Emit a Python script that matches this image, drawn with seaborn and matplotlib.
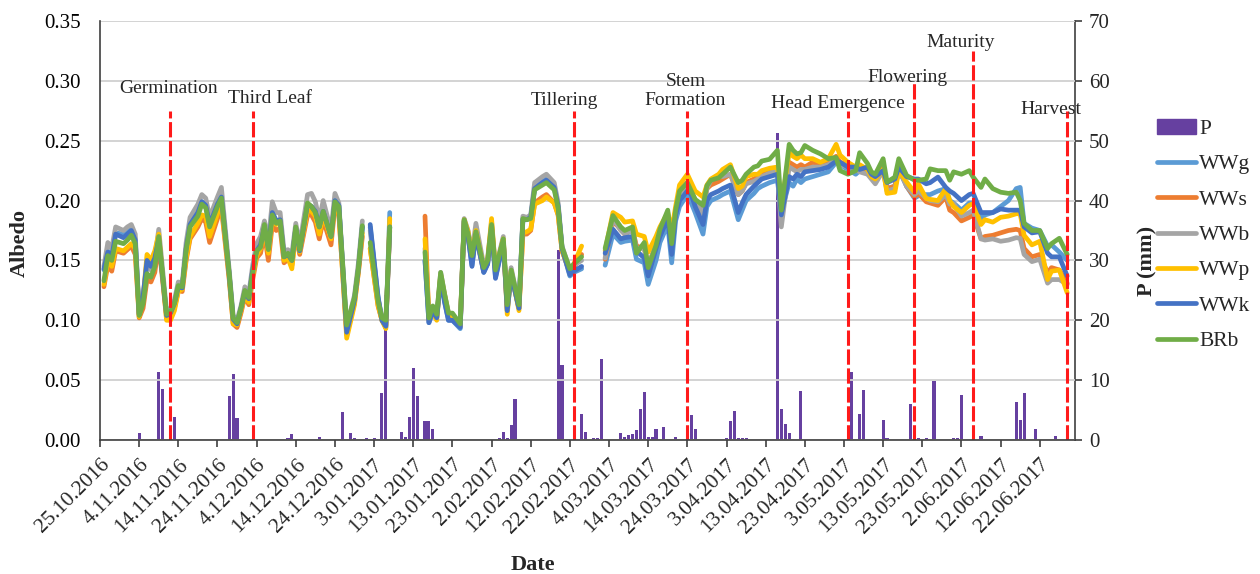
import numpy as np
import pandas as pd
import matplotlib
matplotlib.use("Agg")
import matplotlib.pyplot as plt
import matplotlib.dates as mdates
from matplotlib.lines import Line2D
from matplotlib.patches import Patch
from matplotlib.ticker import FuncFormatter, MultipleLocator
import seaborn as sns

sns.set_theme(style="white")
plt.rcParams["font.family"] = ["Liberation Serif", "DejaVu Serif"]

start = pd.Timestamp("2016-10-25")

# days after 25.10.2016, four measurement segments
days = [
    1, 2, 3, 4, 6, 7, 8, 9, 10, 11, 12, 13, 14, 15, 17, 18, 19, 20, 21, 22, 23, 25, 26, 27, 28, 30, 31,
    33, 34, 35, 36, 37, 38, 39, 40, 41, 42, 43, 44, 45, 46, 47, 48, 49, 50, 51, 53, 54, 55, 56, 57, 59,
    60, 61, 63, 65, 66, 67,
    69, 71, 72, 73, 74,
    83, 84, 85, 86, 87, 88, 89, 90, 92, 93, 94, 95, 96, 98, 99, 100, 101, 103, 104, 105, 107, 108, 109,
    110, 111, 113, 114, 116, 117, 118, 120, 121, 123,
    129, 131, 133, 134, 136, 137, 139, 140, 142, 143, 145, 146, 147, 148, 150, 151, 152, 154, 155, 156,
    158, 159, 161, 163, 164, 165, 167, 168, 169, 171, 173, 174, 176, 177, 178, 179, 180, 182, 184, 186,
    188, 189, 191, 193, 194, 196, 197, 198, 200, 201, 203, 204, 206, 208, 209, 211, 212, 214, 216, 217,
    218, 220, 222, 223, 225, 226, 228, 230, 232, 234, 235, 236, 238, 240, 242, 243, 245, 247,
]
seg_breaks = [68, 80, 126]

WWg = [
    .142, .158, .154, .173, .172, .174, .176, .168, .105, .119, .148, .144, .151, .169, .104, .106, .114, .128, .127, .160, .180, .190, .199, .196, .180, .197, .204,
    .138, .100, .096, .109, .124, .118, .142, .158, .163, .178, .160, .190, .183, .184, .154, .156, .151, .177, .158, .197, .195, .191, .178, .191, .170,
    .201, .196, .091, .118, .143, .178,
    .178, .119, .100, .094, .190,
    .150, .098, .108, .102, .136, .116, .100, .100, .093, .183, .170, .146, .172, .140, .147, .178, .136, .166, .108, .138, .110, .185, .185,
    .187, .211, .216, .218, .212, .196, .160, .137, .140, .143,
    .146, .172, .165, .166, .167, .151, .148, .130, .150, .165, .180, .148, .183, .195, .205, .198, .190, .172, .195, .200,
    .203, .205, .208, .184, .192, .200, .206, .210, .212, .215, .217, .190, .215, .212, .218, .215, .218, .220, .222, .224,
    .232, .230, .226, .222, .225, .224, .220, .218, .225, .210, .212, .226, .212, .202, .204, .205, .205, .208, .210, .200,
    .198, .192, .198, .198, .185, .188, .190, .195, .200, .210, .211, .181, .177, .175, .162, .163, .157, .150,
]
WWs = [
    .128, .146, .141, .158, .156, .159, .162, .155, .102, .110, .134, .132, .140, .164, .102, .102, .110, .125, .124, .150, .168, .178, .185, .182, .165, .185, .194,
    .134, .097, .094, .106, .120, .113, .134, .152, .156, .172, .150, .180, .175, .177, .148, .151, .146, .172, .155, .188, .188, .182, .168, .184, .163,
    .195, .188, .088, .115, .140, .170,
    .160, .112, .100, .096, .175,
    .187, .100, .108, .103, .137, .120, .104, .103, .095, .182, .170, .150, .172, .141, .148, .180, .140, .166, .110, .140, .110, .172, .172,
    .175, .198, .203, .205, .198, .188, .158, .140, .144, .155,
    .151, .183, .176, .172, .176, .162, .160, .146, .163, .174, .188, .165, .190, .207, .215, .208, .200, .190, .210, .213,
    .216, .218, .222, .205, .208, .215, .218, .220, .222, .225, .227, .190, .232, .230, .228, .230, .228, .232, .230, .232,
    .237, .232, .230, .228, .228, .225, .222, .218, .228, .210, .212, .230, .212, .203, .206, .199, .198, .196, .203, .192,
    .190, .183, .186, .188, .168, .170, .171, .173, .175, .176, .175, .160, .153, .155, .1395, .144, .142, .131,
]
WWb = [
    .145, .165, .160, .178, .175, .178, .180, .172, .106, .118, .146, .142, .152, .176, .108, .110, .117, .132, .131, .165, .186, .197, .205, .202, .186, .203, .211,
    .142, .104, .100, .112, .128, .122, .146, .164, .170, .183, .166, .199, .190, .190, .158, .159, .155, .181, .163, .205, .206, .199, .184, .200, .175,
    .206, .198, .095, .121, .148, .183,
    .175, .118, .103, .098, .178,
    .160, .102, .110, .104, .140, .122, .106, .104, .096, .185, .175, .156, .181, .146, .152, .182, .143, .170, .112, .144, .112, .187, .186,
    .188, .215, .220, .222, .215, .198, .162, .142, .146, .150,
    .152, .185, .175, .172, .175, .160, .160, .145, .163, .174, .188, .163, .190, .206, .213, .207, .200, .188, .210, .217,
    .221, .220, .222, .205, .208, .214, .216, .218, .220, .223, .225, .178, .228, .226, .224, .226, .226, .228, .228, .230,
    .234, .230, .228, .226, .224, .222, .218, .214, .225, .208, .210, .226, .212, .205, .208, .202, .200, .199, .205, .197,
    .1975, .187, .190, .192, .168, .167, .168, .166, .167, .169, .1685, .155, .149, .151, .131, .134, .134, .130,
]
WWp = [
    .130, .150, .145, .160, .158, .161, .164, .160, .103, .118, .155, .150, .158, .172, .100, .100, .108, .124, .126, .152, .170, .181, .188, .187, .170, .189, .197,
    .136, .097, .096, .108, .121, .115, .138, .154, .160, .176, .156, .184, .180, .182, .150, .152, .143, .174, .157, .192, .191, .187, .172, .188, .168,
    .197, .190, .085, .113, .141, .173,
    .160, .113, .100, .093, .185,
    .168, .103, .106, .100, .138, .121, .105, .104, .096, .184, .174, .152, .175, .143, .150, .185, .141, .168, .105, .141, .108, .173, .174,
    .176, .197, .200, .203, .198, .188, .158, .141, .147, .162,
    .158, .190, .186, .182, .183, .172, .170, .157, .170, .178, .190, .175, .195, .213, .222, .215, .208, .203, .213, .218,
    .222, .226, .230, .210, .212, .220, .222, .222, .225, .227, .228, .195, .240, .237, .235, .238, .235, .235, .232, .235,
    .247, .238, .232, .228, .230, .226, .220, .218, .226, .206, .207, .225, .2155, .207, .214, .2017, .201, .200, .210, .200,
    .195, .190, .196, .1975, .180, .184, .182, .186, .187, .189, .189, .171, .163, .166, .134, .141, .142, .123,
]
WWk = [
    .143, .157, .153, .172, .169, .172, .175, .167, .105, .120, .150, .145, .152, .168, .104, .106, .114, .128, .127, .160, .180, .190, .199, .196, .180, .197, .203,
    .138, .101, .097, .110, .124, .118, .142, .158, .163, .178, .160, .190, .183, .184, .153, .155, .150, .177, .158, .197, .195, .191, .178, .191, .170,
    .200, .196, .090, .117, .143, .178,
    .180, .120, .100, .095, .178,
    .150, .098, .108, .102, .135, .115, .100, .100, .094, .183, .170, .145, .172, .140, .147, .178, .135, .165, .108, .138, .110, .184, .184,
    .186, .210, .215, .217, .211, .195, .160, .138, .141, .145,
    .156, .176, .168, .169, .170, .158, .152, .137, .160, .170, .185, .155, .188, .200, .208, .205, .195, .180, .200, .205,
    .208, .210, .213, .190, .198, .205, .212, .215, .218, .220, .222, .188, .220, .218, .222, .220, .224, .225, .226, .228,
    .233, .232, .228, .228, .226, .228, .222, .220, .225, .215, .218, .228, .220, .218, .218, .214, .215, .2196, .211, .208,
    .206, .200, .205, .206, .190, .190, .190, .193, .192, .192, .192, .178, .173, .174, .156, .153, .153, .137,
]
BRb = [
    .133, .154, .150, .166, .164, .167, .171, .164, .104, .114, .139, .136, .145, .170, .105, .107, .114, .129, .128, .159, .178, .187, .197, .194, .178, .195, .202,
    .139, .102, .098, .110, .125, .119, .140, .158, .161, .180, .159, .188, .181, .183, .153, .156, .150, .178, .159, .198, .195, .190, .178, .191, .170,
    .199, .195, .096, .119, .144, .179,
    .165, .116, .102, .100, .178,
    .157, .102, .112, .105, .140, .122, .106, .106, .097, .184, .172, .154, .174, .144, .150, .180, .142, .168, .113, .142, .113, .185, .184,
    .185, .209, .213, .215, .209, .194, .161, .143, .147, .153,
    .160, .1875, .178, .175, .178, .156, .165, .144, .1625, .176, .192, .164, .192, .208, .215, .208, .201, .196, .2125, .217,
    .219, .222, .228, .215, .217, .222, .228, .229, .233, .2345, .242, .192, .247, .242, .239, .240, .246, .242, .239, .235,
    .236, .225, .222, .225, .240, .231, .224, .222, .235, .2155, .2196, .235, .221, .217, .217, .218, .2265, .225, .225, .217,
    .224, .222, .225, .2196, .211, .218, .210, .207, .206, .207, .200, .181, .175, .175, .160, .164, .1685, .155,
]

series_names = ["WWg", "WWs", "WWb", "WWp", "WWk", "BRb"]
series_colors = ["#5B9BD5", "#ED7D31", "#A5A5A5", "#FFC000", "#4472C4", "#70AD47"]

# daily precipitation (mm)
p_days = [10, 15, 16, 19, 33, 34, 35, 48, 49, 56, 62, 64, 65, 68, 70, 72, 73, 77, 78, 79, 80, 81, 83, 84, 85,
          102, 103, 104, 105, 106, 117, 118, 123, 124, 126, 127, 128, 133, 134, 135, 136, 137, 138, 139, 140,
          141, 142, 144, 147, 151, 152, 160, 161, 162, 163, 164, 165, 173, 174, 175, 176, 179, 192, 194, 195,
          200, 201, 207, 208, 209, 211, 213, 218, 219, 220, 225, 234, 235, 236, 239, 244]
p_mm = [1.1, 11.3, 8.5, 3.8, 7.4, 11.0, 3.6, 0.3, 1.0, 0.5, 4.7, 1.2, 0.4, 0.4, 0.4, 7.8, 24.2, 1.4, 0.5, 3.8, 12.1, 7.4, 3.2, 3.2, 1.9,
        0.3, 1.4, 0.3, 2.5, 6.9, 31.7, 12.5, 4.3, 1.4, 0.4, 0.4, 13.6, 1.1, 0.5, 0.8, 1.0, 1.6, 5.1, 8.0, 0.5,
        0.5, 1.9, 2.2, 0.5, 4.2, 1.9, 0.4, 3.2, 4.9, 0.3, 0.3, 0.3, 51.3, 5.1, 2.6, 1.1, 8.2, 11.3, 4.3, 8.4,
        3.3, 0.4, 6.0, 0.7, 0.4, 0.3, 9.8, 0.3, 0.4, 7.6, 0.7, 6.3, 3.3, 7.9, 1.8, 0.7]

# phenological stages
stage_names = ["Germination", "Third Leaf", "Tillering", "Stem\nFormation", "Head Emergence",
               "Flowering", "Maturity", "Harvest"]
stage_dates = ["2016-11-12", "2016-12-03", "2017-02-23", "2017-03-24", "2017-05-04",
               "2017-05-21", "2017-06-05", "2017-06-29"]
stage_tops = [0.275, 0.275, 0.275, 0.275, 0.275, 0.30, 0.325, 0.275]
# label placement: shift in days and height in albedo units
label_dx = [-0.5, 4.5, -2.5, -0.5, -2.5, -1.8, -3.2, -4.2]
label_y = [0.294, 0.285, 0.284, 0.2915, 0.281, 0.303, 0.332, 0.276]

df = pd.DataFrame({"day": days, "WWg": WWg, "WWs": WWs, "WWb": WWb,
                   "WWp": WWp, "WWk": WWk, "BRb": BRb})
df["date"] = start + pd.to_timedelta(df["day"], unit="D")
df["seg"] = np.searchsorted(seg_breaks, df["day"])
long = df.melt(id_vars=["date", "seg"], value_vars=series_names,
               var_name="series", value_name="albedo")

precip = pd.DataFrame({"date": start + pd.to_timedelta(p_days, unit="D"), "P": p_mm})

fig = plt.figure(figsize=(12.6, 5.74), dpi=100)
ax = fig.add_axes([100 / 1260, 1 - 440 / 574, 975 / 1260, 419 / 574])
ax2 = ax.twinx()

purple = "#6640A0"
ax2.bar(precip["date"], precip["P"], width=0.8, color=purple, linewidth=0)

ax.set_zorder(ax2.get_zorder() + 1)
ax.patch.set_visible(False)

sns.lineplot(data=long, x="date", y="albedo", hue="series", units="seg", estimator=None,
             hue_order=series_names, palette=series_colors, lw=3.4, ax=ax, legend=False)

red = "#FF1A1A"
sd = pd.to_datetime(stage_dates)
ax.vlines(sd, 0, stage_tops, colors=red, linestyles=(0, (5, 1.2)), lw=2.2)
for name, d, dx, y in zip(stage_names, sd, label_dx, label_y):
    ax.text(mdates.date2num(d + pd.Timedelta(days=dx)), y, name, ha="center", va="center",
            fontsize=14, linespacing=1.1)

ax.set_xlim(start, start + pd.Timedelta(days=249))
ax.set_ylim(0, 0.35)
ax2.set_ylim(0, 70)
ax.yaxis.set_major_locator(MultipleLocator(0.05))
ax.yaxis.set_major_formatter(FuncFormatter(lambda v, p: f"{v:.2f}"))
ax2.yaxis.set_major_locator(MultipleLocator(10))

xt = [start + pd.Timedelta(days=10 * k) for k in range(25)]
ax.set_xticks(xt)
ax.xaxis.set_major_formatter(FuncFormatter(
    lambda v, p: f"{mdates.num2date(v).day}.{mdates.num2date(v):%m.%Y}"))

ax.yaxis.grid(True, color="#D0D0D0", lw=1.3)
ax.xaxis.grid(False)
ax2.grid(False)

for a in (ax, ax2):
    a.spines["top"].set_visible(False)
ax.spines["right"].set_visible(False)
ax2.spines["left"].set_visible(False)
ax2.spines["bottom"].set_visible(False)
for sp in ("left", "bottom"):
    ax.spines[sp].set_color("#404040")
    ax.spines[sp].set_linewidth(1.2)
ax2.spines["right"].set_color("#404040")
ax2.spines["right"].set_linewidth(1.2)

ax.tick_params(axis="y", length=0, pad=14, labelsize=15, colors="black")
ax.tick_params(axis="x", length=5, width=1.2, direction="out", pad=6, labelsize=15.5,
               color="#404040", bottom=True)
ax2.tick_params(axis="y", length=5, width=1.2, direction="out", pad=5, labelsize=15,
                color="#404040", right=True)
for lab in ax.get_xticklabels():
    lab.set_rotation(45)
    lab.set_ha("right")
    lab.set_va("top")
    lab.set_rotation_mode("anchor")

ax.set_xlabel("Date", fontsize=16, fontweight="bold")
ax.xaxis.set_label_coords(0.444, -0.275)
ax.set_ylabel("Albedo", fontsize=16, fontweight="bold")
ax.yaxis.set_label_coords(-0.072, 0.47)
ax2.set_ylabel("P (mm)", fontsize=16, fontweight="bold")
ax2.yaxis.set_label_coords(1.064, 0.427)

handles = [Patch(facecolor=purple, edgecolor=purple)]
handles += [Line2D([], [], color=c, lw=3.4) for c in series_colors]
fig.legend(handles, ["P"] + series_names, loc="upper left",
           bbox_to_anchor=(1157 / 1260, 1 - 119 / 574), frameon=False, fontsize=15.5,
           handlelength=1.8, handletextpad=0.15, labelspacing=0.71,
           borderaxespad=0, borderpad=0)

fig.savefig("out.png", dpi=100)
